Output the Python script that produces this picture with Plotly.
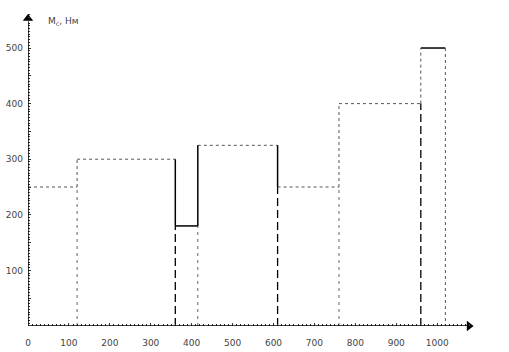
import plotly.graph_objects as go

# Data
t_edges = [0, 120, 360, 415, 610, 760, 960, 1020]   # time, sec
M_levels = [250, 300, 180, 325, 250, 400, 500]     # moment, N*m
x_ticks = [0, 100, 200, 300, 400, 500, 600, 700, 800, 900, 1000]
y_ticks = [100, 200, 300, 400, 500]
y_half_ticks = [50, 150, 250, 350, 450, 550]

# Style codes per piece
horiz_style = ["dot", "dot", "solid", "dot", "dot", "dot", "solid"]
vert_style = ["dot", "solid", "solid", "solid", "dot", "dot"]
drop_style = ["gdash", "bdash", "gdash", "bdash", "gdash", "bdash"]

STY = {
    "dot": dict(color="#555555", width=1, dash="dot"),
    "solid": dict(color="black", width=1.5, dash="solid"),
    "gdash": dict(color="#666666", width=1, dash="3px,4px"),
    "bdash": dict(color="black", width=1.3, dash="8px,4px"),
}

fig = go.Figure()

def seg(x0, y0, x1, y1, style):
    fig.add_trace(go.Scatter(x=[x0, x1], y=[y0, y1], mode="lines",
                             line=STY[style], hoverinfo="skip", showlegend=False))

# drop lines first
for i in range(1, len(t_edges) - 1):
    lo = min(M_levels[i - 1], M_levels[i])
    seg(t_edges[i], 0, t_edges[i], lo, drop_style[i - 1])

# horizontal steps
for i, m in enumerate(M_levels):
    seg(t_edges[i], m, t_edges[i + 1], m, horiz_style[i])

# vertical transitions
for i in range(1, len(t_edges) - 1):
    seg(t_edges[i], M_levels[i - 1], t_edges[i], M_levels[i], vert_style[i - 1])

# final drop
seg(t_edges[-1], M_levels[-1], t_edges[-1], 0, "dot")

XMAX = 1090
YMAX = 563

# axis lines
fig.add_shape(type="line", x0=0, y0=0, x1=XMAX - 15, y1=0, xref="x", yref="y",
              line=dict(color="black", width=1.5))
fig.add_shape(type="line", x0=0, y0=0, x1=0, y1=YMAX - 15, xref="x", yref="y",
              line=dict(color="black", width=1.5))
# arrow heads
fig.add_trace(go.Scatter(x=[XMAX - 12], y=[0], mode="markers",
                         marker=dict(symbol="triangle-right", size=9, color="black"),
                         cliponaxis=False, hoverinfo="skip", showlegend=False))
fig.add_trace(go.Scatter(x=[0], y=[YMAX - 10], mode="markers",
                         marker=dict(symbol="triangle-up", size=9, color="black"),
                         cliponaxis=False, hoverinfo="skip", showlegend=False))
# invisible trace to anchor the half-step tick axis
fig.add_trace(go.Scatter(x=[0], y=[0], yaxis="y2", mode="markers",
                         marker=dict(opacity=0), hoverinfo="skip", showlegend=False))

fig.update_layout(
    width=509, height=352,
    margin=dict(l=28, r=509 - 474, t=13, b=26, autoexpand=False),
    plot_bgcolor="white", paper_bgcolor="white",
    font=dict(family="DejaVu Sans", size=9, color="#444444"),
    xaxis=dict(range=[0, XMAX], showgrid=False, zeroline=False, showline=False,
               automargin=False,
               tickvals=x_ticks, ticktext=[str(v) for v in x_ticks],
               ticks="inside", ticklen=3, tickcolor="#333333",
               ticklabelstandoff=10,
               minor=dict(dtick=10, ticks="inside", ticklen=2, tickcolor="#333333")),
    yaxis=dict(range=[0, YMAX], showgrid=False, zeroline=False, showline=False,
               automargin=False,
               tickvals=y_ticks, ticktext=[str(v) for v in y_ticks],
               ticks="inside", ticklen=3, tickcolor="#333333",
               ticklabelstandoff=4,
               minor=dict(dtick=5, ticks="inside", ticklen=1.5, tickcolor="#333333")),
    yaxis2=dict(range=[0, YMAX], overlaying="y", side="left", anchor="x",
                showgrid=False, zeroline=False, showline=False, automargin=False,
                tickvals=y_half_ticks, showticklabels=False,
                ticks="inside", ticklen=3, tickcolor="#333333"),
)

fig.add_annotation(x=44, y=547, xref="x", yref="y", xanchor="left", yanchor="middle",
                   text="M<sub>с</sub>, Нм", showarrow=False,
                   font=dict(size=9, color="#444444"))
fig.add_annotation(x=1063, y=-27, xref="x", yref="y", xanchor="left", yanchor="middle",
                   text="T, сек", showarrow=False,
                   font=dict(size=9, color="#444444"))

fig.write_html("out.html")
